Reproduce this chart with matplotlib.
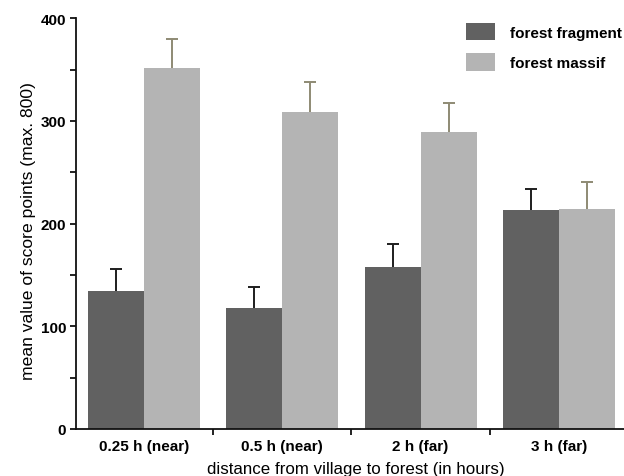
import matplotlib
matplotlib.use("Agg")
import matplotlib.pyplot as plt
from matplotlib.ticker import MultipleLocator, FixedLocator
import numpy as np

categories = ["0.25 h (near)", "0.5 h (near)", "2 h (far)", "3 h (far)"]
series_names = ["forest fragment", "forest massif"]
fragment = [134.5, 117.5, 158, 213.5]
fragment_err = [21, 21, 22, 20.5]
massif = [351.5, 309, 289, 214]
massif_err = [28.5, 28.5, 28.5, 27]

plt.rcParams['font.family'] = ['Liberation Sans', 'DejaVu Sans']

fig = plt.figure(figsize=(6.24, 4.77), dpi=100)
ax = fig.add_axes([76/624, 47/477, 548/624, 410.7/477])

x = np.arange(len(categories))
w = 0.405
c_dark = '#616161'
c_light = '#b4b4b4'

ax.bar(x - w/2, fragment, width=w, color=c_dark, label=series_names[0], zorder=2)
ax.bar(x + w/2, massif, width=w, color=c_light, label=series_names[1], zorder=2)

for xs, vals, errs, col in [(x - w/2, fragment, fragment_err, '#1e1e1e'),
                             (x + w/2, massif, massif_err, '#8e8a74')]:
    eb = ax.errorbar(xs, vals, yerr=[np.zeros(len(errs)), errs], fmt='none',
                     ecolor=col, elinewidth=1.4, capsize=4, capthick=1.4, zorder=3)
    caps = eb[1]
    caps[0].set_visible(False)

ax.set_xlim(-0.492, 3.471)
ax.set_ylim(0, 400)

ax.spines['top'].set_visible(False)
ax.spines['right'].set_visible(False)
for s in ['left', 'bottom']:
    ax.spines[s].set_linewidth(1.3)
    ax.spines[s].set_color('#111111')

ax.yaxis.set_major_locator(MultipleLocator(100))
ax.yaxis.set_minor_locator(MultipleLocator(50))
ax.tick_params(axis='y', which='both', direction='out', length=4, width=1.3, color='#111111')
ax.tick_params(axis='y', which='major', labelsize=11, pad=3)
for lab in ax.get_yticklabels():
    lab.set_fontweight('bold')

ax.xaxis.set_major_locator(FixedLocator([0.5, 1.5, 2.5]))
ax.xaxis.set_minor_locator(FixedLocator(list(x)))
ax.xaxis.set_major_formatter(plt.NullFormatter())
ax.set_xticks(x, categories, minor=True)
ax.tick_params(axis='x', which='major', direction='out', length=4, width=1.3, color='#111111')
ax.tick_params(axis='x', which='minor', length=0, labelsize=11, pad=7)
for lab in ax.get_xticklabels(minor=True):
    lab.set_fontweight('bold')

ax.set_xlabel("distance from village to forest (in hours)", fontsize=12.2)
ax.set_ylabel("mean value of score points (max. 800)", fontsize=12.6)
ax.xaxis.set_label_coords(0.51, -0.078)
ax.yaxis.set_label_coords(-0.073, 0.484)

fs = 11 * 100 / 72
leg = ax.legend(loc='upper left', bbox_to_anchor=(466/624, 1 - 24/477),
                bbox_transform=fig.transFigure, frameon=False, fontsize=11,
                handlelength=29/fs, handleheight=21/fs, handletextpad=15/fs,
                labelspacing=0.85, borderpad=0, borderaxespad=0)
for t in leg.get_texts():
    t.set_fontweight('bold')

fig.savefig("out.png", dpi=100)
